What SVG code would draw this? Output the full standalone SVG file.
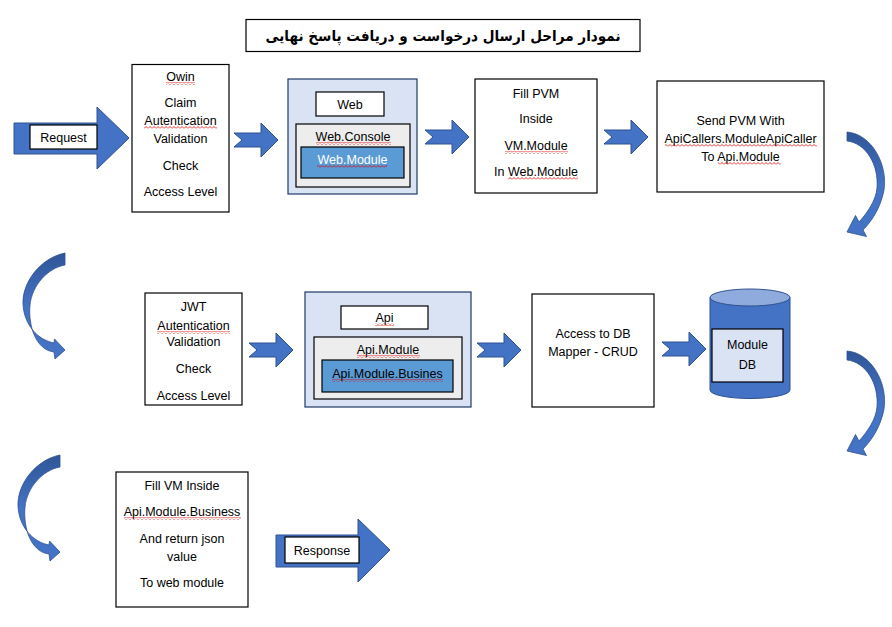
<svg xmlns="http://www.w3.org/2000/svg" width="892" height="627" viewBox="0 0 892 627">
<style>
.t{font-family:"Liberation Sans",Arial,sans-serif;font-size:12.5px;fill:#000;text-anchor:middle}
.w{fill:#fff}
.box{fill:#fff;stroke:#000;stroke-width:1.2}
.cont{fill:#dae3f3;stroke:#1f3864;stroke-width:1.2}
.gray{fill:#ededed;stroke:#000;stroke-width:1.2}
.blue{fill:#5b9bd5;stroke:#000;stroke-width:1.2}
.arr{fill:#4472c4;stroke:#2f528f;stroke-width:1}
.curve{fill:url(#cg);stroke:#2f528f;stroke-width:0.8}
.sq{fill:url(#squig)}
</style>
<defs>
<path id="chev" d="M0,10 L27,10 L27,0 L44,17 L27,34 L27,24 L0,24 L8,17 Z"/>
<pattern id="squig" width="4" height="3" patternUnits="userSpaceOnUse">
<path d="M0,2.5 L2,0.5 L4,2.5" fill="none" stroke="#e00000" stroke-width="0.8"/>
</pattern>
<linearGradient id="cg" x1="0" y1="0" x2="0" y2="1">
<stop offset="0" stop-color="#2f5597"/>
<stop offset="0.5" stop-color="#4472c4"/>
<stop offset="1" stop-color="#4472c4"/>
</linearGradient>
</defs>

<g id="title">
<rect x="246" y="19.5" width="394" height="32" fill="#fff" stroke="#000" stroke-width="1.2"/>
<text x="443" y="41" font-family="'DejaVu Sans',sans-serif" font-size="15" font-weight="bold" text-anchor="middle" textLength="355" lengthAdjust="spacingAndGlyphs">نمودار مراحل ارسال درخواست و دریافت پاسخ نهایی</text>
</g>

<g id="connectors">
<path class="arr" d="M14,123 L97,123 L97,107 L129,138 L97,169 L97,154 L14,154 Z"/>
<use href="#chev" class="arr" x="234" y="123"/>
<use href="#chev" class="arr" x="425" y="120"/>
<use href="#chev" class="arr" x="604" y="120"/>
<path class="curve" d="M847,132 C872,134 888,165 884,190 C881,206 873,220 863,230 L866.5,236.5 L847,232 L855.5,215.5 L859,222 C868,212 876,200 877,188 C879,165 866,143 847,141 Z"/>
<path class="curve" d="M65,253 C40,258 22,283 23,304 C24,325 38,340 54,343 L54.5,339 L65,350 L55,359 L54,352 C36,350 28,326 30,305 C32,285 48,268 65,265 Z"/>
<use href="#chev" class="arr" x="249" y="333"/>
<use href="#chev" class="arr" x="477" y="333"/>
<use href="#chev" class="arr" x="662" y="332"/>
<path class="curve" transform="translate(0,219)" d="M847,132 C872,134 888,165 884,190 C881,206 873,220 863,230 L866.5,236.5 L847,232 L855.5,215.5 L859,222 C868,212 876,200 877,188 C879,165 866,143 847,141 Z"/>
<path class="curve" transform="translate(-5,202)" d="M65,253 C40,258 22,283 23,304 C24,325 38,340 54,343 L54.5,339 L65,350 L55,359 L54,352 C36,350 28,326 30,305 C32,285 48,268 65,265 Z"/>
<path class="arr" d="M276,535 L358,535 L358,519 L390,550 L358,582 L358,567 L276,567 Z"/>
</g>

<g id="request">
<rect class="box" x="30" y="125" width="67" height="24"/>
<text class="t" x="63.5" y="141.5">Request</text>
</g>

<g id="owin">
<rect class="box" x="132" y="64.5" width="97" height="147.5"/>
<text class="t" x="180.5" y="81">Owin</text>
<text class="t" x="180.5" y="107">Claim</text>
<text class="t" x="180.5" y="125">Autentication</text>
<text class="t" x="180.5" y="143">Validation</text>
<text class="t" x="180.5" y="170">Check</text>
<text class="t" x="180.5" y="196">Access Level</text>
<rect class="sq" x="166" y="82" width="29" height="3"/>
<rect class="sq" x="144" y="126" width="73" height="3"/>
</g>

<g id="web">
<rect class="cont" x="288" y="79" width="129" height="115"/>
<rect class="box" x="316" y="92" width="68" height="24"/>
<text class="t" x="350" y="109">Web</text>
<rect class="gray" x="296" y="124" width="114" height="63"/>
<text class="t" x="353" y="141">Web.Console</text>
<rect class="sq" x="316" y="142" width="75" height="3"/>
<rect class="blue" x="301" y="147" width="103" height="31"/>
<text class="t w" x="352.5" y="164">Web.Module</text>
<rect class="sq" x="317" y="165" width="70" height="3"/>
</g>

<g id="fillpvm">
<rect class="box" x="475" y="79" width="122" height="114"/>
<text class="t" x="536" y="97.5">Fill PVM</text>
<text class="t" x="536" y="123">Inside</text>
<text class="t" x="536" y="150">VM.Module</text>
<rect class="sq" x="505" y="151" width="63" height="3"/>
<text class="t" x="536" y="175.5">In Web.Module</text>
<rect class="sq" x="508" y="177" width="70" height="3"/>
</g>

<g id="sendpvm">
<rect class="box" x="657" y="81" width="167" height="111"/>
<text class="t" x="740.5" y="124.5">Send PVM With</text>
<text class="t" x="740.5" y="142.5">ApiCallers.ModuleApiCaller</text>
<rect class="sq" x="665" y="144" width="152" height="3"/>
<text class="t" x="740.5" y="161">To Api.Module</text>
<rect class="sq" x="718" y="162" width="63" height="3"/>
</g>

<g id="jwt">
<rect class="box" x="145" y="293" width="97" height="112"/>
<text class="t" x="193.5" y="311">JWT</text>
<text class="t" x="193.5" y="329.5">Autentication</text>
<rect class="sq" x="157" y="331" width="73" height="3"/>
<text class="t" x="193.5" y="346">Validation</text>
<text class="t" x="193.5" y="372.5">Check</text>
<text class="t" x="193.5" y="399.5">Access Level</text>
</g>

<g id="api">
<rect class="cont" x="305" y="292" width="166" height="115"/>
<rect class="box" x="341" y="306" width="87" height="23"/>
<text class="t" x="384.5" y="322">Api</text>
<rect class="sq" x="375" y="323" width="19" height="3"/>
<rect class="gray" x="314" y="337" width="148" height="62"/>
<text class="t" x="388" y="353.5">Api.Module</text>
<rect class="sq" x="357" y="355" width="63" height="3"/>
<rect class="blue" x="322" y="360" width="131" height="32"/>
<text class="t" x="387.5" y="377.5">Api.Module.Busines</text>
<rect class="sq" x="332" y="379" width="111" height="3"/>
</g>

<g id="dbaccess">
<rect class="box" x="532" y="294" width="122" height="113"/>
<text class="t" x="593" y="338">Access to DB</text>
<text class="t" x="593" y="356">Mapper - CRUD</text>
</g>

<g id="moduledb">
<path d="M710,297.5 L710,390 A40,8.5 0 0 0 790,390 L790,297.5 Z" fill="#4472c4" stroke="#2f528f" stroke-width="1"/>
<ellipse cx="750" cy="297.5" rx="40" ry="8.5" fill="#8faadc" stroke="#2f528f" stroke-width="1"/>
<rect x="712" y="329" width="71" height="53" fill="#dae3f3" stroke="#000" stroke-width="1.2"/>
<text class="t" x="747.5" y="348.5">Module</text>
<text class="t" x="747.5" y="368.5">DB</text>
</g>

<g id="fillvm">
<rect class="box" x="116" y="472" width="132" height="135"/>
<text class="t" x="182" y="489.5">Fill VM Inside</text>
<text class="t" x="182" y="516">Api.Module.Business</text>
<rect class="sq" x="124" y="517" width="117" height="3"/>
<text class="t" x="182" y="542.5">And return json</text>
<text class="t" x="182" y="561">value</text>
<text class="t" x="182" y="586.5">To web module</text>
</g>

<g id="response">
<rect class="box" x="285" y="537" width="74" height="26"/>
<text class="t" x="322" y="554.5">Response</text>
</g>
</svg>
